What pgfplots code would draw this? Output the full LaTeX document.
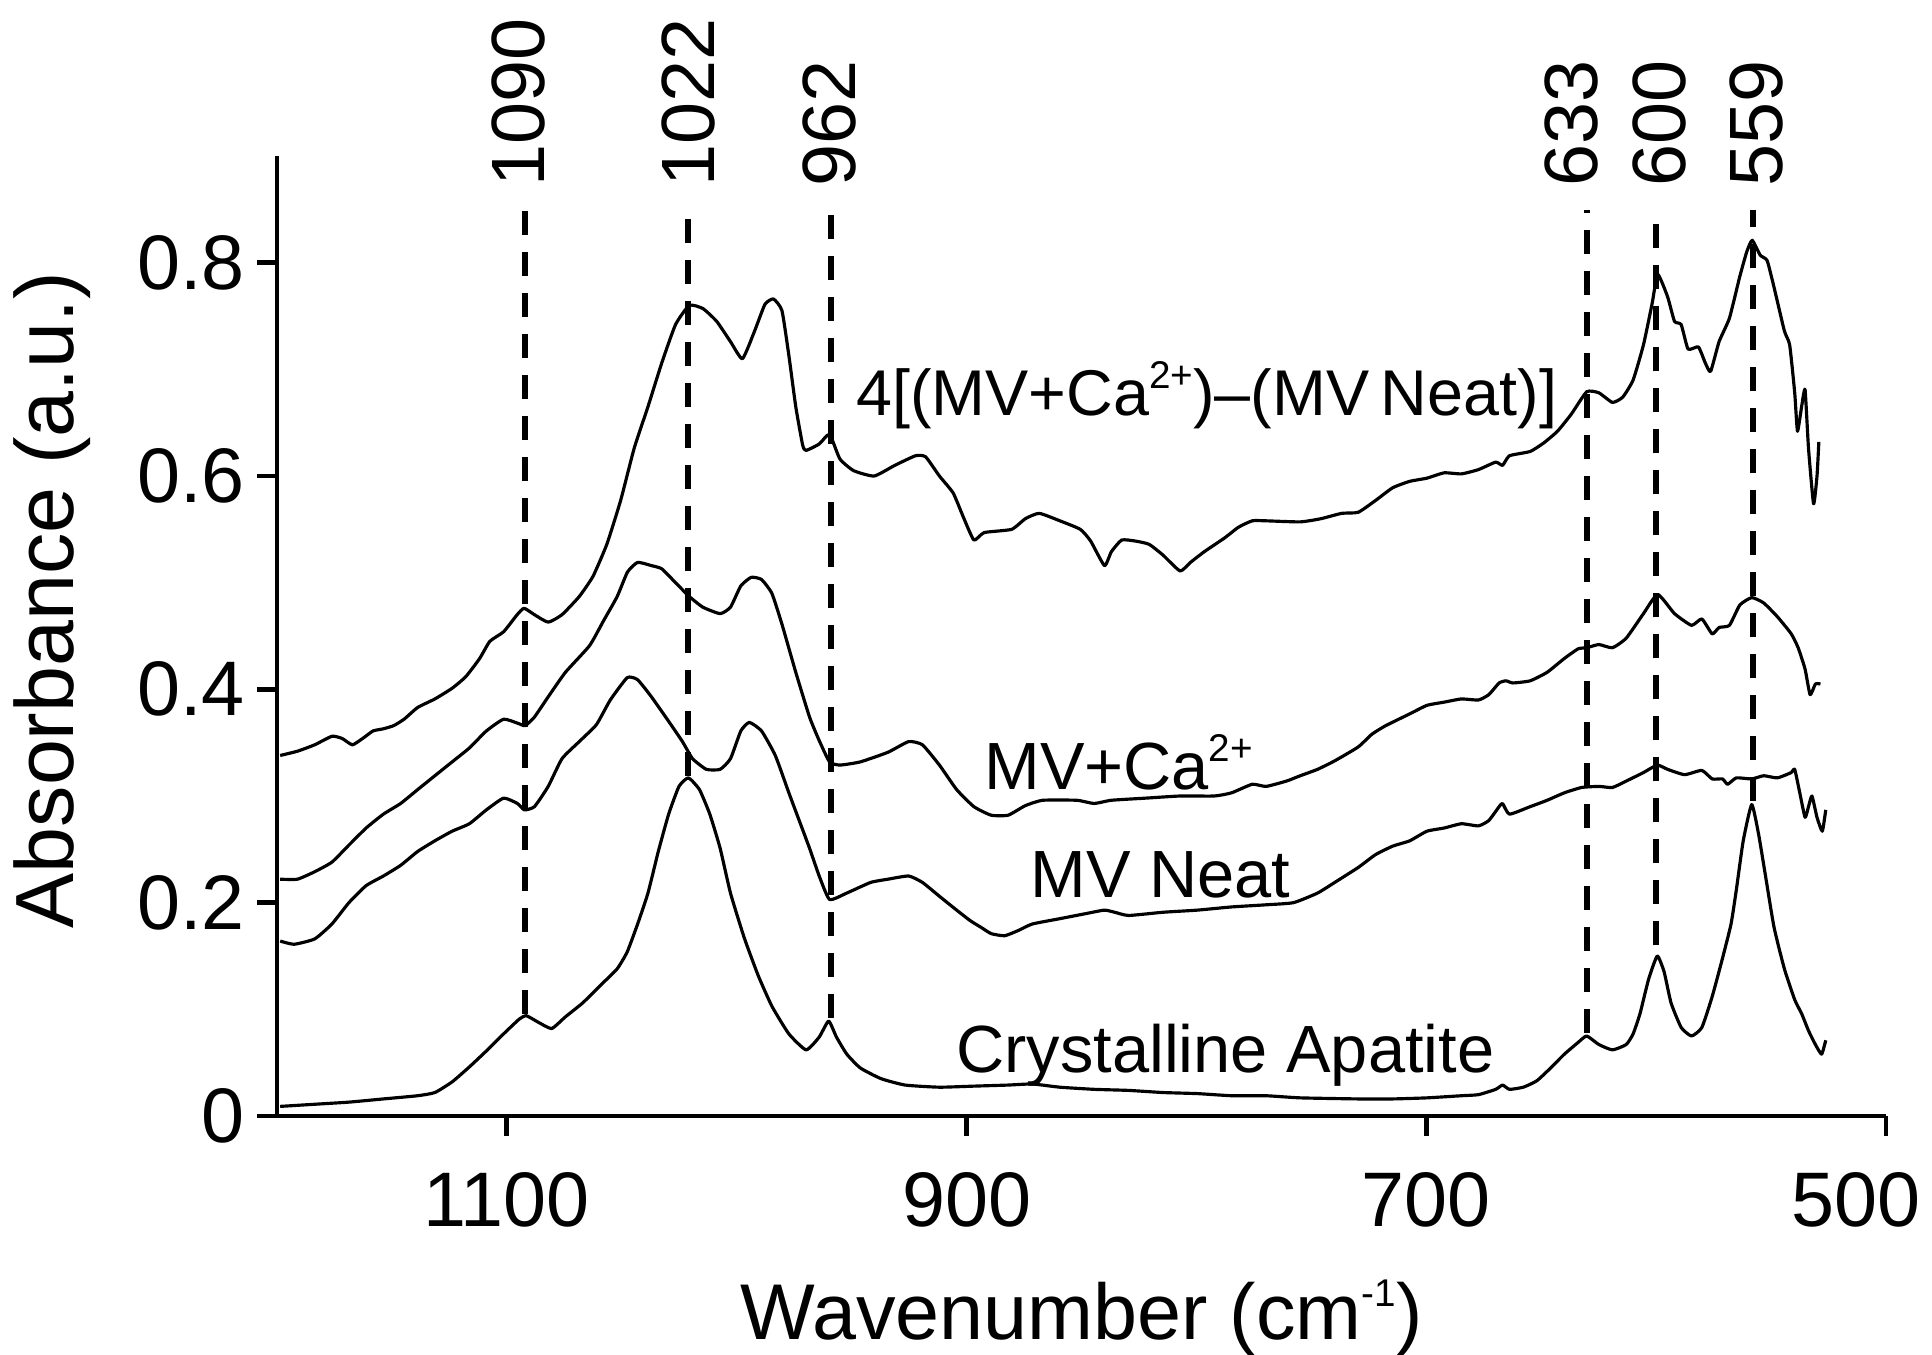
\documentclass[border=0pt]{standalone}
\usepackage{fontspec}
\setmainfont{Liberation Sans}
\usepackage{pgfplots}
\usepackage{pgfplotstable}
\pgfplotsset{compat=1.18}

% small raised superscript, as in the figure
\newcommand{\sups}[1]{\raisebox{0.42em}{\fontsize{11}{12}\selectfont #1}}

% difference spectrum 4[(MV+Ca)-(MV Neat)]
\pgfplotstableread{
wn a
1198.6 0.338
1191.1 0.342
1183.6 0.348
1176.1 0.356
1171.7 0.354
1167.2 0.348
1162.7 0.354
1158.2 0.361
1153.7 0.363
1149.2 0.366
1144.7 0.372
1138.8 0.383
1131.3 0.391
1123.8 0.401
1117.8 0.412
1111.8 0.429
1107.4 0.445
1101.4 0.454
1095.5 0.470
1092.5 0.476
1088.0 0.470
1082.0 0.463
1076.0 0.470
1068.5 0.487
1062.5 0.506
1056.5 0.536
1050.5 0.577
1044.6 0.626
1038.6 0.665
1032.6 0.706
1026.6 0.742
1020.6 0.760
1014.7 0.757
1008.7 0.745
1002.7 0.726
997.5 0.710
992.2 0.736
987.7 0.761
984.0 0.766
980.3 0.755
977.3 0.713
974.3 0.665
971.3 0.629
969.8 0.624
964.1 0.630
959.6 0.639
955.1 0.616
949.1 0.605
940.2 0.600
931.2 0.610
922.2 0.619
917.8 0.618
911.8 0.600
905.8 0.584
901.3 0.561
896.8 0.540
892.3 0.547
880.4 0.550
874.4 0.560
868.4 0.565
859.4 0.558
850.5 0.550
846.0 0.539
840.0 0.516
837.0 0.529
832.5 0.540
826.5 0.539
820.6 0.536
814.6 0.526
807.1 0.511
802.6 0.519
796.6 0.529
787.7 0.542
781.7 0.552
775.7 0.558
769.7 0.558
754.8 0.557
745.8 0.560
736.8 0.565
729.6 0.566
722.1 0.577
714.6 0.589
707.2 0.595
699.7 0.598
692.2 0.603
684.7 0.602
677.3 0.606
669.8 0.613
666.8 0.610
663.8 0.619
654.8 0.623
648.9 0.631
642.9 0.642
636.9 0.658
630.2 0.679
624.9 0.678
619.0 0.669
614.5 0.674
610.0 0.690
605.5 0.723
601.8 0.761
599.3 0.789
595.0 0.768
592.0 0.745
589.1 0.742
586.1 0.719
581.6 0.721
578.6 0.706
576.3 0.698
572.6 0.726
568.1 0.748
563.6 0.787
560.6 0.810
558.2 0.821
554.7 0.807
551.7 0.802
548.7 0.777
544.2 0.736
541.9 0.723
539.7 0.678
538.5 0.642
536.7 0.665
535.2 0.681
533.7 0.626
531.5 0.574
530.0 0.600
529.2 0.632
}\diffspec

% MV + Ca2+
\pgfplotstableread{
wn a
1198.6 0.222
1191.1 0.222
1183.6 0.229
1176.1 0.238
1168.7 0.254
1161.2 0.270
1153.7 0.283
1146.2 0.293
1138.8 0.306
1131.3 0.319
1123.8 0.332
1116.3 0.345
1108.9 0.361
1101.4 0.372
1095.0 0.368
1092.0 0.366
1088.0 0.374
1082.0 0.393
1074.5 0.416
1064.0 0.441
1058.0 0.464
1052.0 0.487
1047.5 0.510
1043.1 0.519
1037.1 0.516
1032.6 0.513
1026.6 0.500
1020.6 0.487
1014.7 0.477
1007.2 0.471
1002.7 0.477
998.2 0.497
993.7 0.505
989.2 0.503
984.7 0.490
980.3 0.461
974.3 0.416
968.3 0.374
964.1 0.352
959.6 0.332
955.1 0.329
946.2 0.332
934.2 0.341
925.2 0.351
919.2 0.348
911.8 0.329
904.3 0.306
896.8 0.290
889.3 0.282
881.9 0.282
874.4 0.291
866.9 0.296
852.0 0.296
844.5 0.293
837.0 0.296
822.1 0.298
807.1 0.300
792.2 0.300
784.7 0.303
775.7 0.311
769.7 0.309
760.8 0.314
754.8 0.319
747.3 0.325
739.8 0.333
729.6 0.346
723.6 0.358
717.6 0.366
707.2 0.377
699.7 0.385
692.2 0.388
684.7 0.391
677.3 0.390
672.8 0.395
668.3 0.406
665.3 0.408
662.3 0.406
654.8 0.408
647.4 0.416
639.9 0.429
633.9 0.438
630.2 0.439
624.9 0.442
619.0 0.439
613.0 0.448
605.5 0.471
599.3 0.489
592.0 0.471
584.6 0.460
580.1 0.466
575.6 0.452
572.6 0.458
568.1 0.460
563.6 0.479
558.4 0.486
553.2 0.481
547.2 0.468
541.2 0.452
538.2 0.439
535.2 0.419
533.0 0.395
530.7 0.405
528.5 0.405
}\mvca

% MV Neat
\pgfplotstableread{
wn a
1198.6 0.164
1192.6 0.161
1183.6 0.166
1176.1 0.180
1168.7 0.200
1161.2 0.216
1153.7 0.225
1146.2 0.235
1138.8 0.248
1131.3 0.258
1123.8 0.267
1116.3 0.274
1108.9 0.287
1101.4 0.298
1095.4 0.293
1092.4 0.287
1088.0 0.290
1082.0 0.309
1076.0 0.335
1068.5 0.351
1061.0 0.367
1055.0 0.390
1047.6 0.411
1043.1 0.409
1037.1 0.393
1029.6 0.370
1023.6 0.351
1019.2 0.335
1013.2 0.325
1007.2 0.325
1002.7 0.335
998.2 0.361
994.5 0.369
989.2 0.361
983.2 0.338
977.3 0.303
972.8 0.277
968.3 0.251
964.1 0.225
959.6 0.203
952.1 0.209
941.7 0.219
934.2 0.222
925.2 0.225
919.2 0.219
911.8 0.206
904.3 0.193
898.3 0.183
893.8 0.177
889.3 0.171
883.4 0.169
877.4 0.174
871.4 0.180
859.4 0.185
847.5 0.190
840.0 0.193
835.5 0.191
829.5 0.188
814.6 0.191
799.6 0.193
784.7 0.196
769.7 0.198
757.8 0.200
747.3 0.209
739.8 0.219
729.6 0.233
722.1 0.245
714.6 0.253
707.2 0.258
699.7 0.267
692.2 0.270
684.7 0.274
677.3 0.272
672.8 0.277
668.3 0.290
666.8 0.293
663.8 0.283
654.8 0.290
647.4 0.296
639.9 0.303
632.4 0.308
624.9 0.309
619.0 0.308
613.0 0.314
605.5 0.322
599.5 0.329
595.0 0.325
587.6 0.320
580.1 0.324
575.6 0.316
571.1 0.316
568.9 0.311
565.1 0.317
558.4 0.316
553.2 0.319
547.2 0.317
541.2 0.322
539.7 0.325
537.5 0.303
535.2 0.280
533.7 0.290
532.2 0.300
530.0 0.280
527.7 0.267
526.2 0.287
}\mvneat

% crystalline apatite
\pgfplotstableread{
wn a
1198.6 0.009
1183.6 0.011
1168.7 0.013
1153.7 0.016
1138.8 0.019
1131.3 0.022
1123.8 0.032
1116.3 0.046
1108.9 0.061
1101.4 0.077
1094.5 0.091
1091.5 0.094
1086.4 0.088
1080.5 0.082
1074.5 0.093
1067.0 0.106
1059.5 0.122
1052.0 0.138
1047.6 0.154
1043.1 0.180
1038.6 0.209
1034.1 0.248
1029.6 0.283
1025.1 0.309
1021.0 0.317
1016.2 0.306
1011.7 0.283
1007.2 0.251
1002.7 0.209
996.7 0.167
990.7 0.132
984.7 0.103
977.3 0.077
969.8 0.062
964.1 0.074
960.0 0.089
956.6 0.074
952.1 0.058
946.2 0.045
937.2 0.035
926.7 0.029
911.8 0.027
896.8 0.028
881.9 0.029
871.4 0.030
859.4 0.027
844.5 0.025
829.5 0.024
814.6 0.022
799.6 0.021
784.7 0.019
769.7 0.019
754.8 0.017
729.6 0.016
714.6 0.016
699.7 0.017
684.7 0.019
677.3 0.020
669.8 0.025
666.8 0.029
663.8 0.025
657.8 0.027
651.9 0.033
645.9 0.045
639.9 0.058
633.9 0.069
630.2 0.075
624.9 0.067
619.0 0.062
613.0 0.067
610.0 0.077
607.0 0.096
603.3 0.128
599.5 0.150
596.5 0.135
593.5 0.106
589.1 0.083
584.6 0.075
580.1 0.083
575.6 0.112
571.1 0.148
567.4 0.180
565.1 0.212
562.1 0.258
558.4 0.292
555.4 0.264
552.4 0.225
548.7 0.177
544.2 0.138
539.7 0.109
536.7 0.096
533.7 0.080
530.7 0.067
528.0 0.058
526.2 0.071
}\apatite

\begin{document}
\begin{tikzpicture}
\useasboundingbox (-2.77,-2.39) rectangle (16.55,11.16);
\begin{axis}[
  width=16.09cm, height=9.60cm, scale only axis,
  xmin=500, xmax=1200, ymin=0, ymax=0.9,
  x dir=reverse,
  axis x line*=bottom, axis y line*=left,
  axis line style={line width=1.4pt, black},
  xtick={500,700,900,1100},
  xticklabels={\kern-0.6cm 500,700,900,1100},
  ytick={0,0.2,0.4,0.6,0.8}, yticklabels={0,0.2,0.4,0.6,0.8},
  tick align=outside, major tick length=2mm,
  tick style={line width=1.4pt, black},
  ticklabel style={font=\fontsize{22}{26}\selectfont},
  xticklabel style={yshift=-2.4mm},
  clip=false,
]

% spectra
\pgfplotsset{spec/.style={black, line width=0.9pt, line join=round, smooth, tension=0.3}}
\addplot[spec] table[x=wn, y=a] {\diffspec};
\addplot[spec] table[x=wn, y=a] {\mvca};
\addplot[spec] table[x=wn, y=a] {\mvneat};
\addplot[spec] table[x=wn, y=a] {\apatite};

% band markers
\pgfplotsset{band/.style={black, line width=1.7pt, dash pattern=on 2.4mm off 1.7mm}}
\addplot[band] coordinates {(1092,0.096) (1092,0.849)};
\addplot[band] coordinates {(1021,0.319) (1021,0.849)};
\addplot[band] coordinates {(959,0.092) (959,0.849)};
\addplot[band] coordinates {(630,0.078) (630,0.849)};
\addplot[band] coordinates {(600,0.160) (600,0.849)};
\addplot[band] coordinates {(558,0.295) (558,0.849)};

\begin{scope}[every node/.style={rotate=90, anchor=west, inner sep=0pt, font=\fontsize{21.5}{25}\selectfont}]
\node at (axis cs:1094.8,0.871) {1090};
\node at (axis cs:1021,0.871) {1022};
\node at (axis cs:959.7,0.871) {962};
\node at (axis cs:636.7,0.871) {633};
\node at (axis cs:598.5,0.871) {600};
\node at (axis cs:556.4,0.871) {559};
\end{scope}

% curve labels
\begin{scope}[every node/.style={anchor=base, inner sep=0pt, font=\fontsize{19}{23}\selectfont}]
\node[font=\fontsize{18.4}{22}\selectfont] at (axis cs:795.5,0.657) {4[(MV+Ca\sups{2+})–(MV\kern-0.1em\ Neat)]};
\node at (axis cs:833.8,0.306) {MV+Ca\sups{2+}};
\node at (axis cs:815.6,0.205) {MV Neat};
\node at (axis cs:787.4,0.041) {Crystalline Apatite};
\end{scope}

% axis titles
\node[rotate=90, anchor=base, inner sep=0pt, font=\fontsize{23.5}{28}\selectfont]
  at (rel axis cs:-0.1262,0.5375) {Absorbance (a.u.)};
\node[anchor=base, inner sep=0pt, font=\fontsize{22.5}{27}\selectfont]
  at (rel axis cs:0.5,-0.2330) {Wavenumber (cm\sups{-1})};
\end{axis}
\end{tikzpicture}
\end{document}
